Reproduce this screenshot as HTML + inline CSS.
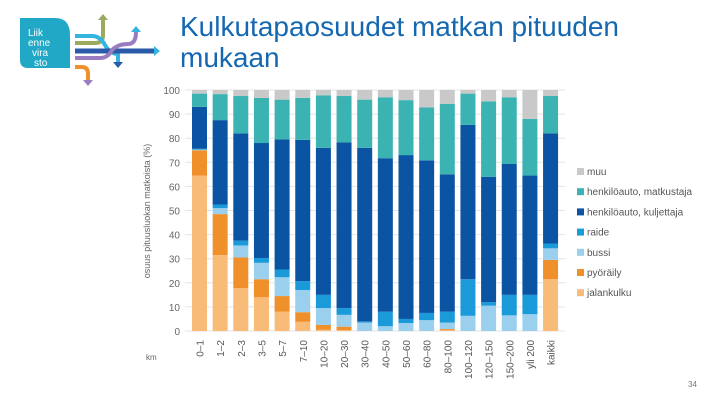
<!DOCTYPE html>
<html><head><meta charset="utf-8"><style>
body{margin:0;width:720px;height:405px;background:#fff;overflow:hidden;font-family:"Liberation Sans",sans-serif;position:relative}
#title{position:absolute;left:180px;top:11px;font-size:28px;line-height:31px;color:#1467b0}
#pg{position:absolute;left:688px;top:380px;font-size:8px;color:#777}
</style></head><body>
<div id="title">Kulkutapaosuudet matkan pituuden<br>mukaan</div>
<svg style="position:absolute;left:0;top:0" width="170" height="90">
<path d="M20 18 H55 Q70 18 70 35 V68 H28 Q20 68 20 60 Z" fill="#20a8c6"/>
<text x="28" y="36" font-size="10" fill="#fff" font-family="Liberation Sans">Liik</text>
<text x="28" y="46" font-size="10" fill="#fff" font-family="Liberation Sans">enne</text>
<text x="32" y="56" font-size="10" fill="#fff" font-family="Liberation Sans">vira</text>
<text x="34" y="66" font-size="10" fill="#fff" font-family="Liberation Sans">sto</text>
<path d="M75 43 H95 Q103 43 103 35 V20" stroke="#9aaa5e" stroke-width="4" fill="none"/>
<path d="M75 36 H92 Q100 36 105 45 Q110 54 118 54 V62" stroke="#35b4df" stroke-width="4" fill="none"/>
<path d="M75 51 H155" stroke="#2a5aa8" stroke-width="5" fill="none"/>
<path d="M75 58 H100 Q108 58 112 50 Q118 44 128 44 Q136 44 136 32" stroke="#9a7cc0" stroke-width="4" fill="none"/>
<path d="M75 67 H82 Q88 67 88 74 V80" stroke="#f0902a" stroke-width="4" fill="none"/>
<polygon points="98,20 108,20 103,14" fill="#9aaa5e"/><polygon points="131,32 141,32 136,26" fill="#35b4df"/>
<polygon points="154,46 154,56 160,51" fill="#35b4df"/><polygon points="113,62 123,62 118,68" fill="#2a5aa8"/>
<polygon points="83,80 93,80 88,86" fill="#9a7cc0"/>
</svg>
<svg id="chart" width="720" height="405" style="position:absolute;left:0;top:0"></svg>
<div id="pg">34</div>
<script>
const categories=["0–1","1–2","2–3","3–5","5–7","7–10","10–20","20–30","30–40","40–50","50–60","60–80","80–100","100–120","120–150","150–200","yli 200","kaikki"];
const seriesNames=["jalankulku","pyöräily","bussi","raide","henkilöauto, kuljettaja","henkilöauto, matkustaja","muu"];
const colors=["#f9bb78","#f0902a","#9acfee","#1a9ad9","#0a54a3","#3bb3b3","#c9c9c9"];
const jalankulku=[64.5,31.5,17.8,14,8,3.8,0.5,0.3,0,0,0,0,0.3,0,0,0,0,21.5];
const pyoraily=[10.5,17,12.7,7.5,6.5,4,2,1.5,0,0,0,0,0.5,0,0,0,0,8];
const bussi=[0.3,2.5,5,6.8,7.8,9.2,7,4.9,3.5,2,3.3,4.5,2.7,6.3,10.5,6.5,7,4.8];
const raide=[0.3,1.5,2,2,3.2,3.7,5.5,2.8,0.5,6,1.7,3,4.5,15.2,1.5,8.5,8,2];
const kuljettaja=[17.4,35,44.5,47.7,54,58.6,61,68.8,72,63.7,68,63.3,57,64,52,54.3,49.5,45.7];
const matkustaja=[5.5,10.8,15.5,18.7,16.5,17.4,21.8,19.2,20,25.3,22.8,22,29.3,13,31.3,27.7,23.5,15.5];
const muu=[1.5,1.7,2.5,3.3,4,3.3,2.2,2.5,4,3,4.2,7.2,5.7,1.5,4.7,3,12,2.5];
const series=[jalankulku,pyoraily,bussi,raide,kuljettaja,matkustaja,muu];
const yTicks=[0,10,20,30,40,50,60,70,80,90,100];
const NS="http://www.w3.org/2000/svg",svg=document.getElementById('chart');
const y0=331,y100=90,x0=192,step=20.65,bw=15;
const yS=v=>y0-(y0-y100)*v/100, xS=i=>x0+i*step;
function mk(t,a,p){const e=document.createElementNS(NS,t);for(const k in a)e.setAttribute(k,a[k]);(p||svg).appendChild(e);return e;}
yTicks.forEach(t=>{
 const l=mk('line',{x1:185,x2:565,y1:yS(t),y2:yS(t),stroke:'#e4e4e4','stroke-width':1});
 
 
 const tx=mk('text',{x:180,y:yS(t)+4,'text-anchor':'end','font-size':10,fill:'#666','font-family':'Liberation Sans'});
 tx.textContent=t;
 
 
});
const yt=mk('text',{transform:'translate(150,211) rotate(-90)','text-anchor':'middle','font-size':9,fill:'#666','font-family':'Liberation Sans'});
yt.textContent='osuus pituusluokan matkoista (%)';


const km=mk('text',{x:146,y:360,'font-size':8,fill:'#666','font-family':'Liberation Sans'});
km.textContent='km';


categories.forEach((c,i)=>{
 let acc=0;
 series.forEach((s,k)=>{
  const v=s[i]; if(v<=0){return;}
  const r=mk('rect',{x:xS(i),y:yS(acc+v),width:bw,height:yS(acc)-yS(acc+v),fill:colors[k]});
  
  
  acc+=v;
 });
 const t=mk('text',{transform:`translate(${xS(i)+bw/2+4},340) rotate(-90)`,'text-anchor':'end','font-size':10,fill:'#555','font-family':'Liberation Sans'});
 t.textContent=c;
 
 
});
for(let k=6;k>=0;k--){
 const yy=172+(6-k)*20.2;
 const g=mk('g',{});
 
 
 mk('rect',{x:577,y:yy-4,width:7,height:7,fill:colors[k]},g);
 const t=mk('text',{x:587,y:yy+3,'font-size':10,fill:'#555','font-family':'Liberation Sans'},g);
 t.textContent=seriesNames[k];
}
</script>
</body></html>
